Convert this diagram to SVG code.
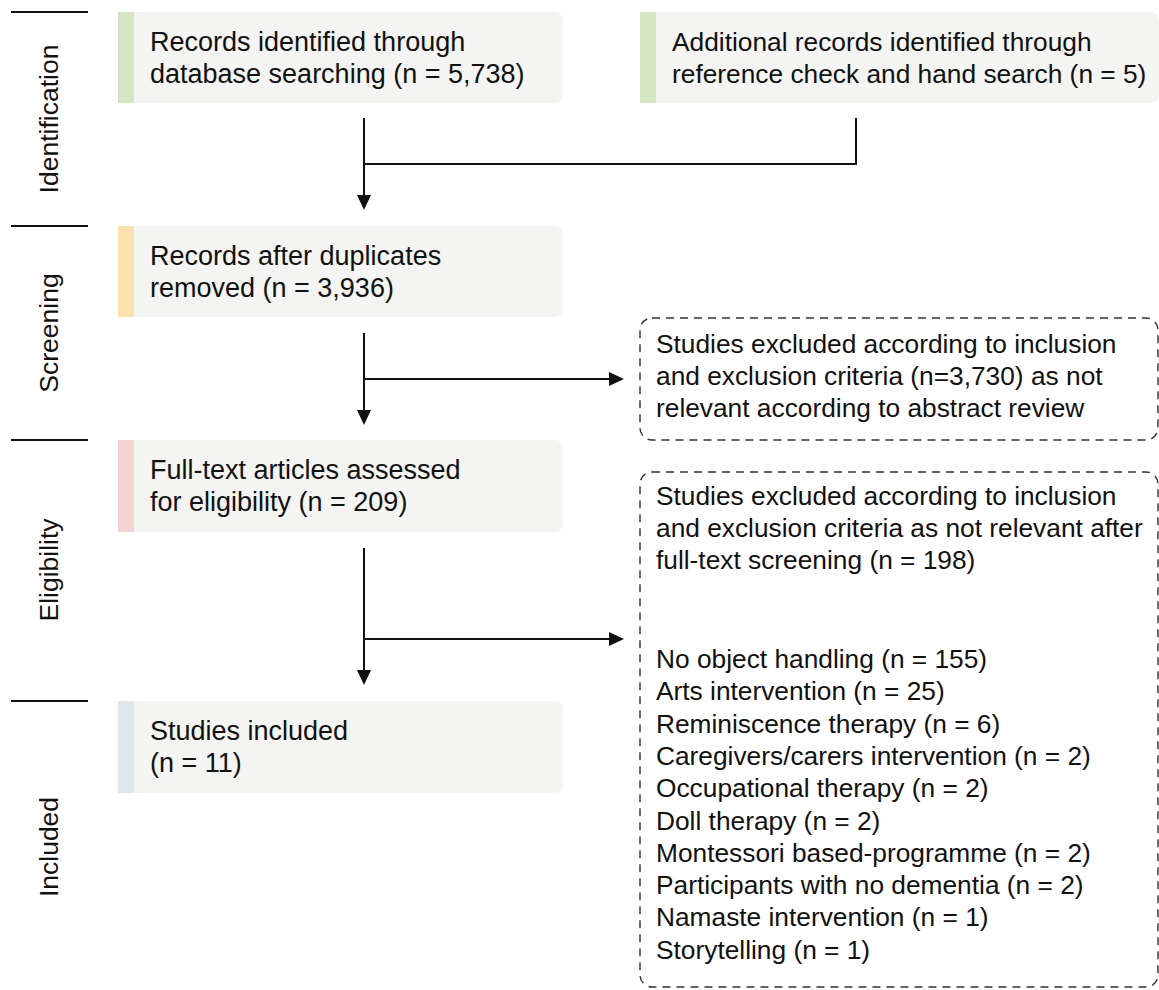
<svg xmlns="http://www.w3.org/2000/svg" width="1159" height="990" viewBox="0 0 1159 990">
<style>
.t{font-family:"Liberation Sans",Arial,Helvetica,sans-serif;font-size:26.3px;fill:#111}
.l{font-size:27px}
.box{fill:#f4f4f2}
.dash{fill:none;stroke:#333;stroke-width:1.4;stroke-dasharray:8 6}
.sep{stroke:#111;stroke-width:2}
.con{fill:none;stroke:#111;stroke-width:2}
.lbl{text-anchor:middle;font-size:26.5px}
</style>
<defs>
<marker id="ah" markerUnits="userSpaceOnUse" markerWidth="15" markerHeight="14" refX="13" refY="7" orient="auto">
<path d="M0,0 L15,7 L0,14 Z" fill="#111"/>
</marker>
</defs>
<g id="phases">
<line class="sep" x1="11" y1="12" x2="88" y2="12"/>
<line class="sep" x1="11" y1="226" x2="88" y2="226"/>
<line class="sep" x1="11" y1="440" x2="88" y2="440"/>
<line class="sep" x1="11" y1="701" x2="88" y2="701"/>
<text class="t lbl" transform="translate(58,119) rotate(-90)">Identification</text>
<text class="t lbl" transform="translate(58,333) rotate(-90)">Screening</text>
<text class="t lbl" transform="translate(58,570) rotate(-90)">Eligibility</text>
<text class="t lbl" transform="translate(58,847) rotate(-90)">Included</text>
</g>
<g id="n1">
<rect class="box" x="118" y="12" width="445" height="91" rx="8"/>
<rect x="118" y="12" width="16" height="91" fill="#d4e6c3"/>
<text class="t l" x="150" y="51">Records identified through</text>
<text class="t l" x="150" y="83">database searching (n = 5,738)</text>
</g>
<g id="n2">
<rect class="box" x="640" y="12" width="519" height="91" rx="8"/>
<rect x="640" y="12" width="16" height="91" fill="#d4e6c3"/>
<text class="t" x="672" y="51">Additional records identified through</text>
<text class="t" x="672" y="83">reference check and hand search (n = 5)</text>
</g>
<g id="n3">
<rect class="box" x="118" y="226" width="445" height="91" rx="8"/>
<rect x="118" y="226" width="16" height="91" fill="#f9e2b0"/>
<text class="t l" x="150" y="265">Records after duplicates</text>
<text class="t l" x="150" y="297">removed (n = 3,936)</text>
</g>
<g id="n4">
<rect class="dash" x="640" y="318" width="518" height="122" rx="12"/>
<text class="t" x="656" y="353">Studies excluded according to inclusion</text>
<text class="t" x="656" y="385">and exclusion criteria (n=3,730) as not</text>
<text class="t" x="656" y="417">relevant according to abstract review</text>
</g>
<g id="n5">
<rect class="box" x="118" y="440" width="445" height="92" rx="8"/>
<rect x="118" y="440" width="16" height="92" fill="#f5d3d2"/>
<text class="t l" x="150" y="479">Full-text articles assessed</text>
<text class="t l" x="150" y="511">for eligibility (n = 209)</text>
</g>
<g id="n6">
<rect class="dash" x="640" y="472" width="518" height="515" rx="12"/>
<text class="t" x="656" y="505">Studies excluded according to inclusion</text>
<text class="t" x="656" y="537">and exclusion criteria as not relevant after</text>
<text class="t" x="656" y="569">full-text screening (n = 198)</text>
<text class="t" x="656" y="668">No object handling (n = 155)</text>
<text class="t" x="656" y="700">Arts intervention (n = 25)</text>
<text class="t" x="656" y="733">Reminiscence therapy (n = 6)</text>
<text class="t" x="656" y="765">Caregivers/carers intervention (n = 2)</text>
<text class="t" x="656" y="797">Occupational therapy (n = 2)</text>
<text class="t" x="656" y="830">Doll therapy (n = 2)</text>
<text class="t" x="656" y="862">Montessori based-programme (n = 2)</text>
<text class="t" x="656" y="894">Participants with no dementia (n = 2)</text>
<text class="t" x="656" y="926">Namaste intervention (n = 1)</text>
<text class="t" x="656" y="959">Storytelling (n = 1)</text>
</g>
<g id="n7">
<rect class="box" x="118" y="701" width="445" height="92" rx="8"/>
<rect x="118" y="701" width="16" height="92" fill="#dde7ee"/>
<text class="t l" x="150" y="740">Studies included</text>
<text class="t l" x="150" y="772">(n = 11)</text>
</g>
<g id="connectors">
<path class="con" d="M364,118 V208" marker-end="url(#ah)"/>
<path class="con" d="M364,164 H856 V118"/>
<path class="con" d="M364,333 V423" marker-end="url(#ah)"/>
<path class="con" d="M364,379 H622" marker-end="url(#ah)"/>
<path class="con" d="M364,548 V683" marker-end="url(#ah)"/>
<path class="con" d="M364,639 H622" marker-end="url(#ah)"/>
</g>
</svg>
